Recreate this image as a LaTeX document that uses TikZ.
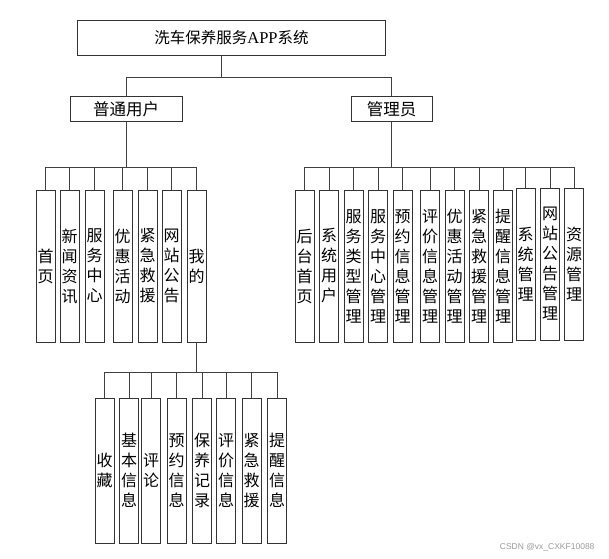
\documentclass[tikz,border=0pt]{standalone}
\usepackage{fontspec}
\setmainfont{Noto Sans CJK SC}
\newfontfamily\lat{Liberation Serif}
\newfontfamily\wmfont{Liberation Sans}
\begin{document}
\begin{tikzpicture}[x=1pt,y=-1pt,
  box/.style={draw=black!80, line width=0.9pt, inner sep=0pt, font=\fontsize{16}{20}\selectfont, align=center},
  vbox/.style={box, minimum width=19pt, text width=16pt},
  topv/.style={vbox, minimum height=152pt},
  botv/.style={vbox, minimum height=145pt},
  link/.style={draw=black!75, line width=0.9pt}]
\useasboundingbox (0,0) rectangle (609,558);
\node[box, minimum width=308pt, minimum height=35pt, font=\fontsize{15.5}{20}\selectfont] (root) at (231.5,38) {洗车保养服务{\lat\fontsize{16.5}{20}\selectfont APP}系统};
\node[box, minimum width=112pt, minimum height=25pt, font=\fontsize{16.5}{20}\selectfont] (user) at (126,109.2) {普通用户};
\node[box, minimum width=81pt, minimum height=25pt, font=\fontsize{16.5}{20}\selectfont] (admin) at (391.5,109.2) {管理员};
% user functions
\node[topv] (l1) at (45.5,266) {首\\页};
\node[topv] (l2) at (69.5,266) {新\\闻\\资\\讯};
\node[topv] (l3) at (94.5,266) {服\\务\\中\\心};
\node[topv] (l4) at (122.5,266) {优\\惠\\活\\动};
\node[topv] (l5) at (147.5,266) {紧\\急\\救\\援};
\node[topv] (l6) at (171.5,266) {网\\站\\公\\告};
\node[topv] (l7) at (196.5,266) {我\\的};
% admin functions
\node[topv] (r1) at (304.5,266) {后\\台\\首\\页};
\node[topv] (r2) at (329,266) {系\\统\\用\\户};
\node[topv] (r3) at (353.5,266) {服\\务\\类\\型\\管\\理};
\node[topv] (r4) at (378,266) {服\\务\\中\\心\\管\\理};
\node[topv] (r5) at (402.5,266) {预\\约\\信\\息\\管\\理};
\node[topv] (r6) at (430,266) {评\\价\\信\\息\\管\\理};
\node[topv] (r7) at (454.5,266) {优\\惠\\活\\动\\管\\理};
\node[topv] (r8) at (479,266) {紧\\急\\救\\援\\管\\理};
\node[topv] (r9) at (503,266) {提\\醒\\信\\息\\管\\理};
\node[topv] (r10) at (525.5,264) {系\\统\\管\\理};
\node[topv] (r11) at (550,264) {网\\站\\公\\告\\管\\理};
\node[topv] (r12) at (574,264) {资\\源\\管\\理};
% my functions
\node[botv] (b1) at (104.5,470.5) {收\\藏};
\node[botv] (b2) at (129,470.5) {基\\本\\信\\息};
\node[botv] (b3) at (151,470.5) {评\\论};
\node[botv] (b4) at (176.5,470.5) {预\\约\\信\\息};
\node[botv] (b5) at (202,470.5) {保\\养\\记\\录};
\node[botv] (b6) at (226,470.5) {评\\价\\信\\息};
\node[botv] (b7) at (251.5,470.5) {紧\\急\\救\\援};
\node[botv] (b8) at (277,470.5) {提\\醒\\信\\息};
% junctions
\coordinate (jt) at (221,77);
\coordinate (jl) at (0,167);
\coordinate (jr) at (0,167);
\coordinate (jb) at (0,372);
% connectors
\draw[link] (root.south -| jt) -- (jt);
\draw[link] (user.north) -- (user.north |- jt) -- (admin.north |- jt) -- (admin.north);
\draw[link] (user.south) -- (user.south |- jl);
\draw[link] (l1.north |- jl) -- (l7.north |- jl);
\foreach \i in {1,...,7} \draw[link] (l\i.north) -- (l\i.north |- jl);
\draw[link] (admin.south) -- (admin.south |- jr);
\draw[link] (r1.north |- jr) -- (r12.north |- jr);
\foreach \i in {1,...,12} \draw[link] (r\i.north) -- (r\i.north |- jr);
\draw[link] (l7.south) -- (l7.south |- jb);
\draw[link] (b1.north |- jb) -- (b8.north |- jb);
\foreach \i in {1,...,8} \draw[link] (b\i.north) -- (b\i.north |- jb);
\node[font=\wmfont\fontsize{8.5}{10}\selectfont, text=black!40, anchor=east] (wm) at (598,547) {CSDN @vx\_CXKF10088};
\end{tikzpicture}
\end{document}
